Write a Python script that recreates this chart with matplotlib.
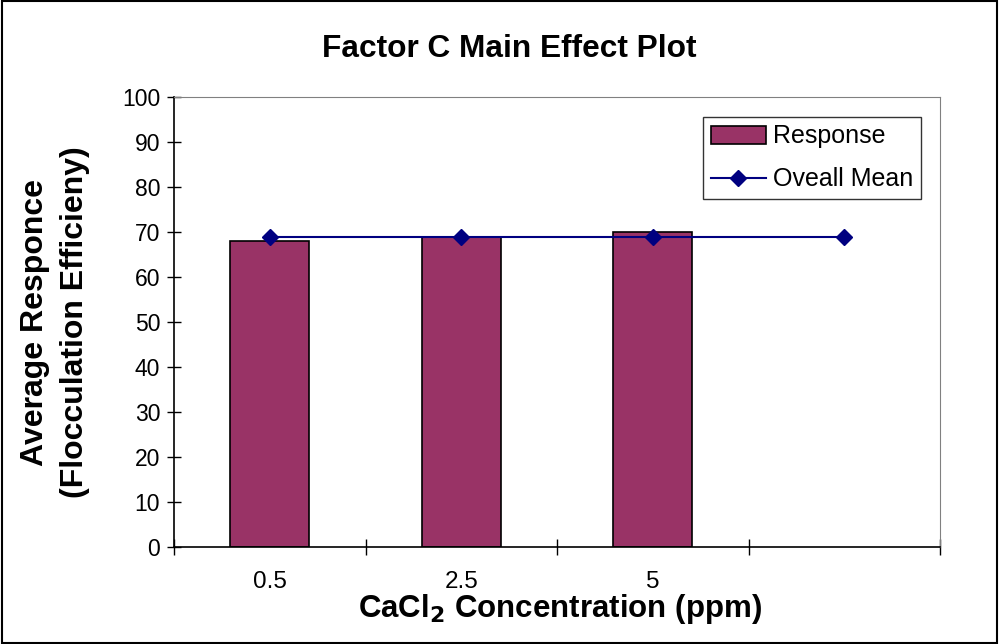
import matplotlib.pyplot as plt
from matplotlib import font_manager
import numpy as np

plt.rcParams['font.family'] = ['Liberation Sans', 'DejaVu Sans']

# Data
categories = ['0.5', '2.5', '5', '']
response = [68, 69, 70]
overall_mean = [69, 69, 69, 69]

# the category labels in the original are tall and narrow
names = {f.name for f in font_manager.fontManager.ttflist}
if 'Liberation Sans Narrow' in names:
    cat_font, cat_size = 'Liberation Sans Narrow', 20
else:
    cat_font, cat_size = 'Liberation Sans', 17.5

fig = plt.figure(figsize=(9.99, 6.44), dpi=100)
ax = fig.add_axes([174 / 999, (644 - 547) / 644, 766 / 999, 450 / 644])

x = np.arange(len(categories))
bars = ax.bar(x[:len(response)], response, width=0.41, color='#993366',
              edgecolor='black', linewidth=1.2, label='Response', zorder=2)
line, = ax.plot(x, overall_mean, color='#000080', marker='D', markersize=8,
                linewidth=1.5, label='Oveall Mean', zorder=3)

ax.set_xlim(-0.5, len(categories) - 0.5)
ax.set_ylim(0, 100)
ax.set_yticks(np.arange(0, 101, 10))
ax.tick_params(axis='y', direction='inout', length=10, width=1, labelsize=16.5, pad=5)

# category labels at centres, tick marks at category boundaries
ax.set_xticks(x)
ax.set_xticklabels(categories, fontsize=cat_size, family=cat_font)
ax.tick_params(axis='x', which='major', length=0, pad=17)
ax.set_xticks(np.arange(-0.5, len(categories), 1), minor=True)
ax.tick_params(axis='x', which='minor', direction='inout', length=12, width=1)

for side in ['top', 'right']:
    ax.spines[side].set_color('#808080')
for side in ['left', 'bottom']:
    ax.spines[side].set_linewidth(1.2)

# axis titles placed on the figure, like the Excel chart
fig.text(560 / 999, 1 - 617 / 644, 'CaCl$_\\mathbf{2}$ Concentration (ppm)',
         ha='center', va='baseline', fontsize=22.5, fontweight='bold')
fig.text(55 / 999, 1 - 322 / 644, 'Average Responce\n(Flocculation Efficieny)',
         ha='center', va='center', rotation=90, fontsize=23,
         fontweight='bold', linespacing=1.4, multialignment='center')
fig.text(509 / 999, 1 - 49 / 644, 'Factor C Main Effect Plot', ha='center',
         va='center', fontsize=22.8, fontweight='bold')

leg = ax.legend([bars, line], ['Response', 'Oveall Mean'], loc='upper left',
                bbox_to_anchor=(703 / 999, 1 - 117 / 644),
                bbox_transform=fig.transFigure, fontsize=18, frameon=True,
                fancybox=False, edgecolor='black', handlelength=2.2,
                handletextpad=0.3, borderpad=0.3, labelspacing=0.75,
                borderaxespad=0)
leg.get_frame().set_linewidth(1)

# outer chart border
fig.patches.append(plt.Rectangle((0.002, 0.002), 0.996, 0.996, fill=False,
                                 edgecolor='black', linewidth=1.5,
                                 transform=fig.transFigure))

plt.savefig('out.png', dpi=100)
plt.close()
